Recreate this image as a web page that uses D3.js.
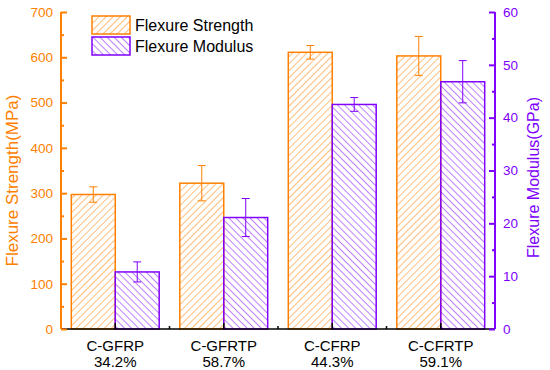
<!DOCTYPE html>
<html>
<head>
<meta charset="utf-8">
<script src="https://cdn.jsdelivr.net/npm/d3@7"></script>
<style>
  body { margin: 0; background: #fff; }
  text { font-family: "Liberation Sans", Arial, sans-serif; }
</style>
</head>
<body>
<svg id="chart" width="550" height="370"></svg>
<script>
// ---------------- DATA ----------------
const categories = ['C-GFRP', 'C-GFRTP', 'C-CFRP', 'C-CFRTP'];
const fractions = ['34.2%', '58.7%', '44.3%', '59.1%'];
const strength = [297, 322, 611, 603];      // MPa
const strengthErr = [17, 39, 15, 43];
const modulus = [10.8, 21.1, 42.5, 46.8];   // GPa
const modulusErr = [1.9, 3.6, 1.3, 4.0];
const strengthTicks = [0, 100, 200, 300, 400, 500, 600, 700];
const modulusTicks = [0, 10, 20, 30, 40, 50, 60];

const orange = '#FF8000';
const purple = '#8000FF';

// ---------------- LAYOUT ----------------
const plotLeft = 61, plotRight = 495, plotTop = 12, plotBottom = 329;
const svg = d3.select('#chart');

const x0 = d3.scaleBand().domain(categories).range([plotLeft, plotRight])
  .paddingInner(0.19).paddingOuter(0.095);
const x1 = d3.scaleBand().domain(['s', 'm']).range([0, x0.bandwidth()]);
const yS = d3.scaleLinear().domain([0, 700]).range([plotBottom, plotTop]);
const yM = d3.scaleLinear().domain([0, 60]).range([plotBottom, plotTop]);

// hatch patterns
const defs = svg.append('defs');
function hatch(id, color, angle) {
  defs.append('pattern')
    .attr('id', id)
    .attr('patternUnits', 'userSpaceOnUse')
    .attr('width', 5).attr('height', 5)
    .attr('patternTransform', `rotate(${angle})`)
    .append('line')
    .attr('x1', 0).attr('y1', 0).attr('x2', 0).attr('y2', 5)
    .attr('stroke', color).attr('stroke-width', 1);
}
hatch('hatchS', orange, 45);
hatch('hatchM', purple, -45);

// ---------------- BARS ----------------
const rows = categories.map((c, i) => ({
  cat: c,
  s: strength[i], sErr: strengthErr[i],
  m: modulus[i], mErr: modulusErr[i]
}));

const groups = svg.append('g').selectAll('g')
  .data(rows).join('g')
  .attr('transform', (d) => `translate(${x0(d.cat)},0)`);

groups.append('rect')
  .attr('x', x1('s')).attr('width', x1.bandwidth())
  .attr('y', (d) => yS(d.s)).attr('height', (d) => yS(0) - yS(d.s))
  .attr('fill', 'url(#hatchS)').attr('stroke', orange).attr('stroke-width', 1.5);

groups.append('rect')
  .attr('x', x1('m')).attr('width', x1.bandwidth())
  .attr('y', (d) => yM(d.m)).attr('height', (d) => yM(0) - yM(d.m))
  .attr('fill', 'url(#hatchM)').attr('stroke', purple).attr('stroke-width', 1.5);

// error bars
function errorBar(sel, key, errKey, scale, color) {
  const cx = x1(key) + x1.bandwidth() / 2;
  const g = sel.append('g').attr('stroke', color).attr('stroke-width', 1);
  g.append('line').attr('x1', cx).attr('x2', cx)
    .attr('y1', (d) => scale(d[key] - d[errKey])).attr('y2', (d) => scale(d[key] + d[errKey]));
  g.append('line').attr('x1', cx - 4).attr('x2', cx + 4)
    .attr('y1', (d) => scale(d[key] + d[errKey])).attr('y2', (d) => scale(d[key] + d[errKey]));
  g.append('line').attr('x1', cx - 4).attr('x2', cx + 4)
    .attr('y1', (d) => scale(d[key] - d[errKey])).attr('y2', (d) => scale(d[key] - d[errKey]));
}
errorBar(groups, 's', 'sErr', yS, orange);
errorBar(groups, 'm', 'mErr', yM, purple);

// ---------------- AXES ----------------
// bottom axis
const xAxis = svg.append('g');
xAxis.append('line').attr('x1', plotLeft).attr('x2', plotRight)
  .attr('y1', plotBottom).attr('y2', plotBottom).attr('stroke', '#000').attr('stroke-width', 1.5);
xAxis.selectAll('.major').data(categories).join('line').attr('class', 'major')
  .attr('x1', (d) => x0(d) + x0.bandwidth() / 2).attr('x2', (d) => x0(d) + x0.bandwidth() / 2)
  .attr('y1', plotBottom).attr('y2', plotBottom - 6).attr('stroke', '#000').attr('stroke-width', 1.5);
xAxis.selectAll('.minor').data(categories.slice(1)).join('line').attr('class', 'minor')
  .attr('x1', (d) => x0(d) - x0.step() * x0.paddingInner() / 2)
  .attr('x2', (d) => x0(d) - x0.step() * x0.paddingInner() / 2)
  .attr('y1', plotBottom).attr('y2', plotBottom - 3).attr('stroke', '#000').attr('stroke-width', 1.5);
categories.forEach((c, i) => {
  const cx = x0(c) + x0.bandwidth() / 2;
  const t = xAxis.append('text').attr('text-anchor', 'middle')
    .attr('font-size', 15).attr('fill', '#000');
  t.append('tspan').attr('x', cx).attr('y', 351).text(c);
  t.append('tspan').attr('x', cx).attr('y', 367).text(fractions[i]);
});

// left axis (inward ticks)
const yAxisL = svg.append('g').attr('transform', `translate(${plotLeft},0)`);
yAxisL.append('g').call(d3.axisLeft(yS).tickValues(d3.range(50, 700, 100)).tickSize(-3).tickFormat(''));
yAxisL.append('g').call(d3.axisLeft(yS).tickValues(strengthTicks).tickSize(-6).tickPadding(8));
yAxisL.selectAll('line, path').attr('stroke', orange).attr('stroke-width', 2);
yAxisL.selectAll('.domain').attr('d', `M0,${plotTop}V${plotBottom}`);
yAxisL.selectAll('text').attr('font-size', 13.5).attr('fill', orange)
  .style('font-family', '"Liberation Sans", Arial, sans-serif');

// right axis (inward ticks)
const yAxisR = svg.append('g').attr('transform', `translate(${plotRight},0)`);
yAxisR.append('g').call(d3.axisRight(yM).tickValues(d3.range(5, 60, 10)).tickSize(-3).tickFormat(''));
yAxisR.append('g').call(d3.axisRight(yM).tickValues(modulusTicks).tickSize(-6).tickPadding(8));
yAxisR.selectAll('line, path').attr('stroke', purple).attr('stroke-width', 2);
yAxisR.selectAll('.domain').attr('d', `M0,${plotTop}V${plotBottom}`);
yAxisR.selectAll('text').attr('font-size', 13.5).attr('fill', purple)
  .style('font-family', '"Liberation Sans", Arial, sans-serif');

// axis titles
svg.append('text')
  .attr('transform', `translate(18,${(plotTop + plotBottom) / 2 + 10}) rotate(-90)`)
  .attr('text-anchor', 'middle').attr('font-size', 17).attr('fill', orange)
  .text('Flexure Strength(MPa)');
svg.append('text')
  .attr('transform', `translate(539,${(plotTop + plotBottom) / 2 + 7}) rotate(-90)`)
  .attr('text-anchor', 'middle').attr('font-size', 16).attr('fill', purple)
  .text('Flexure Modulus(GPa)');

// ---------------- LEGEND ----------------
const legendItems = [
  { label: 'Flexure Strength', fill: 'url(#hatchS)', color: orange },
  { label: 'Flexure Modulus', fill: 'url(#hatchM)', color: purple }
];
const legend = svg.append('g').selectAll('g').data(legendItems).join('g')
  .attr('transform', (d, i) => `translate(92,${16 + i * 21})`);
legend.append('rect').attr('width', 38).attr('height', 18)
  .attr('fill', (d) => d.fill).attr('stroke', (d) => d.color).attr('stroke-width', 1.5);
legend.append('text').attr('x', 43).attr('y', 15)
  .attr('font-size', 16).attr('fill', '#000').text((d) => d.label);
</script>
</body>
</html>
